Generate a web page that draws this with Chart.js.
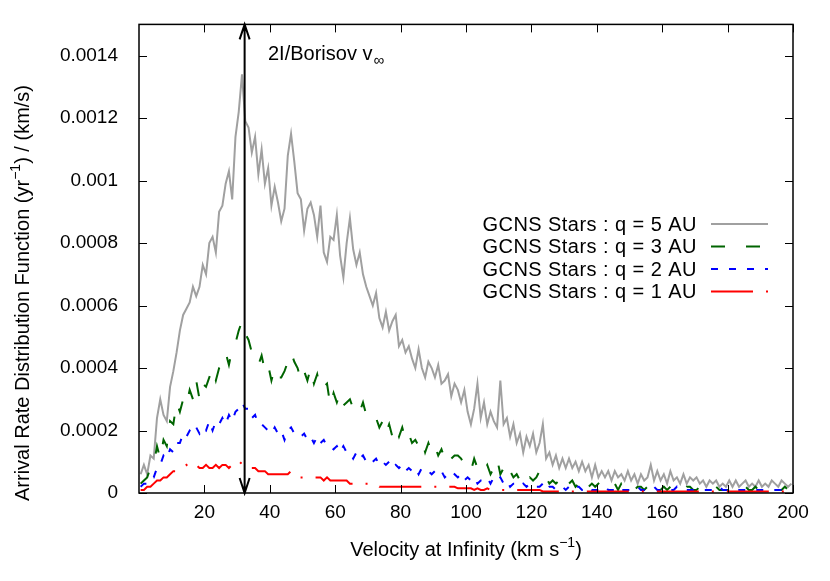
<!DOCTYPE html>
<html>
<head>
<meta charset="utf-8">
<script src="https://cdn.jsdelivr.net/npm/chart.js@4.4.0/dist/chart.umd.min.js"></script>
<style>
  html, body { margin: 0; padding: 0; background: #fff; }
  #wrap { width: 830px; height: 581px; }
</style>
</head>
<body>
<div id="wrap"><canvas id="chartPlace"></canvas></div>
<script>
// bin centres, km/s
var velocity = Array.from({length: 200}, function (_, i) { return i + 0.5; });

// GCNS stars, q = 5 AU
var q5 = [
  0.00006, 0.00009, 0.00006, 0.00012, 0.00011, 0.00024, 0.00030, 0.00025, 0.00023, 0.00034,
  0.00039, 0.00045, 0.00052, 0.00057, 0.00059, 0.00061, 0.00066, 0.00063, 0.00066, 0.00073,
  0.00070, 0.00080, 0.00082, 0.00077, 0.00090, 0.00092, 0.00099, 0.00103, 0.00094, 0.00114,
  0.00122, 0.00134, 0.00119, 0.00117, 0.00109, 0.00114, 0.00102, 0.00110, 0.00099, 0.00104,
  0.00092, 0.00098, 0.00093, 0.00087, 0.00091, 0.00108, 0.00115, 0.00106, 0.00096, 0.00094,
  0.00084, 0.00091, 0.00093, 0.00089, 0.00082, 0.00092, 0.00077, 0.00074, 0.00082, 0.00081,
  0.00089, 0.00076, 0.00069, 0.00080, 0.00088, 0.00078, 0.00073, 0.00077, 0.00070, 0.00066,
  0.00063, 0.00060, 0.00064, 0.00056, 0.00053, 0.00058, 0.00052, 0.00055, 0.00057, 0.00047,
  0.00049, 0.00045, 0.00047, 0.00043, 0.00040, 0.00046, 0.00040, 0.00037, 0.00042, 0.00040,
  0.00037, 0.00041, 0.00035, 0.00036, 0.00038, 0.00031, 0.00035, 0.00033, 0.00029, 0.00033,
  0.00026, 0.00022, 0.00027, 0.00035, 0.00024, 0.00029, 0.00022, 0.00026, 0.00023, 0.00021,
  0.00036, 0.00022, 0.00024, 0.00018, 0.00022, 0.00016, 0.00019, 0.00013, 0.00018, 0.00015,
  0.00019, 0.00013, 0.00016, 0.00022, 0.00011, 0.00013, 0.00009, 0.00012, 0.00008, 0.00011,
  0.00008, 0.00011, 0.00008, 0.00010, 0.00007, 0.00010, 0.00007, 0.00009, 0.00005, 0.00009,
  0.00005, 0.00007, 0.00005, 0.00007, 0.00004, 0.00007, 0.00005, 0.00006, 0.00004, 0.00007,
  0.00004, 0.00006, 0.00003, 0.00006, 0.00004, 0.00005, 0.00009, 0.00004, 0.00007, 0.00004,
  0.00006, 0.00003, 0.00007, 0.00004, 0.00005, 0.00003, 0.00006, 0.00003, 0.00005, 0.00004,
  0.00005, 0.00003, 0.00004, 0.00002, 0.00004, 0.00003, 0.00004, 0.00002, 0.00003, 0.00002,
  0.00004, 0.00002, 0.00004, 0.00002, 0.00003, 0.00004, 0.00002, 0.00003, 0.00002, 0.00004,
  0.00002, 0.00003, 0.00002, 0.00004, 0.00003, 0.00002, 0.00004, 0.00003, 0.00002, 0.00003
];

// q = 3 AU
var q3 = [
  0.00003, 0.00004, 0.00005, 0.00008, 0.00009, 0.00015, 0.00011, 0.00017, 0.00015, 0.00023,
  0.00022, 0.00029, 0.00026, 0.00030, 0.00028, 0.00033, 0.00030, 0.00036, 0.00030, 0.00035,
  0.00034, 0.00037, 0.00040, 0.00036, 0.00040, 0.00042, 0.00045, 0.00041, 0.00046, 0.00048,
  0.00052, 0.00055, 0.00051, 0.00049, 0.00045, 0.00044, 0.00041, 0.00044, 0.00039, 0.00041,
  0.00036, 0.00040, 0.00037, 0.00037, 0.00039, 0.00042, 0.00045, 0.00042, 0.00040, 0.00036,
  0.00039, 0.00036, 0.00040, 0.00035, 0.00038, 0.00033, 0.00034, 0.00035, 0.00028, 0.00032,
  0.00029, 0.00032, 0.00028, 0.00029, 0.00030, 0.00027, 0.00028, 0.00026, 0.00029, 0.00025,
  0.00025, 0.00023, 0.00024, 0.00021, 0.00023, 0.00019, 0.00022, 0.00018, 0.00021, 0.00018,
  0.00021, 0.00017, 0.00019, 0.00016, 0.00017, 0.00015, 0.00017, 0.00013, 0.00016, 0.00013,
  0.00015, 0.00012, 0.00014, 0.00011, 0.00013, 0.00011, 0.00012, 0.00012, 0.00011, 0.00009,
  0.00009, 0.00007, 0.00011, 0.00008, 0.00009, 0.00007, 0.00009, 0.00006, 0.00008, 0.00011,
  0.00006, 0.00008, 0.00005, 0.00007, 0.00005, 0.00006, 0.00004, 0.00006, 0.00004, 0.00005,
  0.00004, 0.00005, 0.00007, 0.00004, 0.00005, 0.00003, 0.00004, 0.00003, 0.00004, 0.00002,
  0.00004, 0.00003, 0.00004, 0.00002, 0.00003, 0.00002, 0.00004, 0.00002, 0.00003, 0.00002,
  0.00003, 0.00002, 0.00003, 0.00002, 0.00002, 0.00003, 0.00001, 0.00003, 0.00002, 0.00002,
  0.00003, 0.00001, 0.00002, 0.00002, 0.00001, 0.00002, 0.00003, 0.00001, 0.00002, 0.00001,
  0.00002, 0.00001, 0.00002, 0.00001, 0.00002, 0.00002, 0.00001, 0.00002, 0.00002, 0.00001,
  0.00001, 0.00002, 0.00002, 0.00001, 0.00001, 0.00002, 0.00002, 0.00001, 0.00001, 0.00001,
  0.00001, 0.00001, 0.00002, 0.00001, 0.00001, 0.00002, 0.00001, 0.00001, 0.00002, 0.00001,
  0.00001, 0.00001, 0.00001, 0.00002, 0.00001, 0.00001, 0.00001, 0.00002, 0.00001, 0.00001
];

// q = 2 AU
var q2 = [
  0.00002, 0.00003, 0.00003, 0.00005, 0.00005, 0.00008, 0.00009, 0.00012, 0.00011, 0.00014,
  0.00013, 0.00016, 0.00016, 0.00019, 0.00018, 0.00020, 0.00019, 0.00021, 0.00019, 0.00021,
  0.00020, 0.00023, 0.00020, 0.00023, 0.00022, 0.00024, 0.00022, 0.00025, 0.00023, 0.00026,
  0.00027, 0.00029, 0.00027, 0.00027, 0.00024, 0.00025, 0.00022, 0.00022, 0.00021, 0.00020,
  0.00019, 0.00021, 0.00019, 0.00020, 0.00017, 0.00020, 0.00021, 0.00019, 0.00019, 0.00018,
  0.00019, 0.00017, 0.00018, 0.00016, 0.00018, 0.00016, 0.00017, 0.00015, 0.00015, 0.00014,
  0.00015, 0.00013, 0.00015, 0.00013, 0.00013, 0.00011, 0.00013, 0.00011, 0.00012, 0.00010,
  0.00011, 0.00010, 0.00011, 0.00009, 0.00010, 0.00009, 0.00010, 0.00008, 0.00009, 0.00008,
  0.00009, 0.00007, 0.00008, 0.00007, 0.00008, 0.00006, 0.00008, 0.00007, 0.00007, 0.00006,
  0.00007, 0.00006, 0.00007, 0.00005, 0.00006, 0.00005, 0.00006, 0.00005, 0.00006, 0.00004,
  0.00005, 0.00004, 0.00005, 0.00003, 0.00004, 0.00004, 0.00005, 0.00003, 0.00005, 0.00004,
  0.00005, 0.00003, 0.00004, 0.00002, 0.00003, 0.00003, 0.00002, 0.00003, 0.00002, 0.00003,
  0.00003, 0.00002, 0.00002, 0.00003, 0.00001, 0.00002, 0.00002, 0.00001, 0.00002, 0.00002,
  0.00001, 0.00002, 0.00001, 0.00002, 0.00002, 0.00001, 0.00001, 0.00002, 0.00001, 0.00001,
  0.00001, 0.00002, 0.00002, 0.00001, 0.00001, 0.00001, 0.00002, 0.00001, 0.00001, 0.00001,
  0.00001, 0.00001, 0.00002, 0.00001, 0.00001, 0.00001, 0.00001, 0.00002, 0.00001, 0.00001,
  0.00001, 0.00001, 0.00001, 0.00001, 0.00002, 0.00001, 0.00001, 0.00001, 0.00001, 0.00001,
  0.00001, 0.00001, 0.00001, 0.00001, 0.00001, 0.00001, 0.00001, 0.00002, 0.00001, 0.00001,
  0.00001, 0.00001, 0.00001, 0.00001, 0.00001, 0.00001, 0.00001, 0.00001, 0.00001, 0.00001,
  0.00001, 0.00001, 0.00001, 0.00001, 0.00001, 0.00001, 0.00001, 0.00001, 0.00001, 0.00001
];

// q = 1 AU
var q1 = [
  0.00001, 0.00001, 0.00002, 0.00002, 0.00003, 0.00004, 0.00004, 0.00005, 0.00005, 0.00006,
  0.00007, 0.00007, 0.00008, 0.00008, 0.00009, 0.00008, 0.00009, 0.00009, 0.00008, 0.00008,
  0.00009, 0.00008, 0.00008, 0.00009, 0.00008, 0.00009, 0.00009, 0.00008, 0.00009, 0.00010,
  0.00009, 0.00010, 0.00010, 0.00009, 0.00008, 0.00008, 0.00007, 0.00007, 0.00007, 0.00006,
  0.00006, 0.00006, 0.00006, 0.00006, 0.00006, 0.00006, 0.00007, 0.00006, 0.00005, 0.00005,
  0.00005, 0.00005, 0.00005, 0.00005, 0.00005, 0.00005, 0.00004, 0.00005, 0.00004, 0.00004,
  0.00004, 0.00004, 0.00004, 0.00004, 0.00003, 0.00003, 0.00003, 0.00003, 0.00003, 0.00003,
  0.00003, 0.00003, 0.00003, 0.00002, 0.00002, 0.00002, 0.00002, 0.00002, 0.00002, 0.00002,
  0.00002, 0.00002, 0.00002, 0.00002, 0.00002, 0.00002, 0.00002, 0.00002, 0.00002, 0.00002,
  0.00002, 0.00002, 0.00002, 0.00002, 0.00002, 0.00002, 0.00002, 0.000015, 0.000015, 0.000015,
  0.000015, 0.000015, 0.00001, 0.000015, 0.00001, 0.00001, 0.000015, 0.00001, 0.00001, 0.00001,
  0.00001, 0.00001, 0.00001, 0.00001, 0.00001, 0.00001, 0.00001, 0.00001, 0.00001, 0.00001,
  0.00001, 0.00001, 0.00001, 0.000005, 0.000005, 0.000005, 0.000005, 0.000005, 0.000005, 0.000005,
  0.000005, 0.000005, 0.000005, 0.000005, 0.000005, 0.000005, 0.000005, 0.000005, 0.000005, 0.000005,
  0.000005, 0.000005, 0.000005, 0.000005, 0.000005, 0.000005, 0.000005, 0.000005, 0.000005, 0.000005,
  0.000005, 0.000005, 0.000005, 0.000005, 0.000005, 0.000005, 0.000005, 0.000005, 0.000005, 0.000005,
  0.000005, 0.000005, 0.000005, 0.000005, 0.000005, 0.000005, 0.000005, 0.000005, 0.000005, 0.000005,
  0.000005, 0.000005, 0.000005, 0.000005, 0.000005, 0.000005, 0.000005, 0.000005, 0.000005, 0.000005,
  0.000005, 0.000005, 0.000005, 0.000005, 0.000005, 0.000005, 0.000005, 0.000005, 0.000005, 0.000005,
  0.000005, 0.000005, 0.000005, 0.000005, 0.000005, 0.000005, 0.000005, 0.000005, 0.000005, 0.000005
];

var seriesNames = ["GCNS Stars : q = 5 AU", "GCNS Stars : q = 3 AU", "GCNS Stars : q = 2 AU", "GCNS Stars : q = 1 AU"];
var seriesColors = ["#a0a0a0", "#006400", "#0000ff", "#ff0000"];
var seriesDash = [[], [14, 21], [7, 11], [42, 13, 2, 13]];
var xTicks = [20, 40, 60, 80, 100, 120, 140, 160, 180, 200];
var yTicks = [0, 0.0002, 0.0004, 0.0006, 0.0008, 0.001, 0.0012, 0.0014];
var borisovVinf = 32.3;

var fontName = "'Liberation Sans', Arial, sans-serif";

function points(arr) {
	var out = [];
	for (var i = 0; i < arr.length; i++) {
		out.push({x: velocity[i], y: arr[i]});
	}
	return out;
}

var allSeries = [q5, q3, q2, q1];
var datasets = [];
for (var s = 0; s < allSeries.length; s++) {
	datasets.push({
		label: seriesNames[s],
		data: points(allSeries[s]),
		borderColor: seriesColors[s],
		borderWidth: 2,
		borderDash: seriesDash[s],
		pointRadius: 0,
		tension: 0,
		fill: false,
		order: 4 - s
	});
}

// frame, inward ticks, arrow, legend and axis titles, gnuplot style
var decorPlugin = {
	id: 'decor',
	afterDraw: function (chart) {
		var ctx = chart.ctx;
		var xs = chart.scales.x, ys = chart.scales.y;
		var a = chart.chartArea;
		ctx.save();

		// border
		ctx.strokeStyle = '#000';
		ctx.lineWidth = 1.5;
		ctx.strokeRect(a.left, a.top, a.right - a.left, a.bottom - a.top);

		// ticks pointing inwards on all four sides
		ctx.lineWidth = 1;
		ctx.beginPath();
		for (var i = 0; i < xTicks.length; i++) {
			var px = Math.round(xs.getPixelForValue(xTicks[i])) + 0.5;
			ctx.moveTo(px, a.bottom); ctx.lineTo(px, a.bottom - 8);
			ctx.moveTo(px, a.top); ctx.lineTo(px, a.top + 8);
		}
		for (var j = 0; j < yTicks.length; j++) {
			var py = Math.round(ys.getPixelForValue(yTicks[j])) + 0.5;
			ctx.moveTo(a.left, py); ctx.lineTo(a.left + 8, py);
			ctx.moveTo(a.right, py); ctx.lineTo(a.right - 8, py);
		}
		ctx.stroke();

		// double headed arrow at 2I/Borisov v_inf
		var ax = xs.getPixelForValue(borisovVinf);
		var yb = ys.getPixelForValue(0), yt = ys.getPixelForValue(0.0015);
		ctx.lineWidth = 2;
		ctx.beginPath();
		ctx.moveTo(ax, yb); ctx.lineTo(ax, yt);
		ctx.moveTo(ax - 5, yb - 15); ctx.lineTo(ax, yb); ctx.lineTo(ax + 5, yb - 15);
		ctx.moveTo(ax - 5, yt + 15); ctx.lineTo(ax, yt); ctx.lineTo(ax + 5, yt + 15);
		ctx.stroke();

		ctx.fillStyle = '#000';
		ctx.font = '20px ' + fontName;
		ctx.textAlign = 'left';
		ctx.textBaseline = 'alphabetic';
		var lab = '2I/Borisov v';
		ctx.fillText(lab, 268, 60);
		var lw = ctx.measureText(lab).width;
		ctx.font = '15px ' + fontName;
		ctx.fillText('\u221e', 268 + lw + 1, 65);

		// legend
		ctx.font = '20px ' + fontName;
		ctx.letterSpacing = '0.45px';
		ctx.textBaseline = 'middle';
		for (var k = 0; k < seriesNames.length; k++) {
			var ly = 224 + k * 22.5;
			ctx.textAlign = 'right';
			ctx.fillText(seriesNames[k], 697, ly + 1);
			ctx.strokeStyle = seriesColors[k];
			ctx.lineWidth = 2;
			ctx.setLineDash(seriesDash[k]);
			ctx.beginPath();
			ctx.moveTo(711, ly); ctx.lineTo(768, ly);
			ctx.stroke();
			ctx.setLineDash([]);
		}
		ctx.letterSpacing = '0px';

		// x title with superscript
		ctx.textAlign = 'left';
		ctx.textBaseline = 'alphabetic';
		var xt1 = 'Velocity at Infinity (km s', xt2 = '\u22121', xt3 = ')';
		ctx.font = '20px ' + fontName;
		var w1 = ctx.measureText(xt1).width, w3 = ctx.measureText(xt3).width;
		ctx.font = '14px ' + fontName;
		var w2 = ctx.measureText(xt2).width;
		var sx = 466 - (w1 + w2 + w3) / 2;
		ctx.font = '20px ' + fontName;
		ctx.fillText(xt1, sx, 556);
		ctx.fillText(xt3, sx + w1 + w2, 556);
		ctx.font = '14px ' + fontName;
		ctx.fillText(xt2, sx + w1, 547);

		// y title, rotated
		ctx.translate(29, 293);
		ctx.rotate(-Math.PI / 2);
		var yt1 = 'Arrival Rate Distribution Function (yr', yt2 = '\u22121', yt3 = ') / (km/s)';
		ctx.font = '20px ' + fontName;
		var v1 = ctx.measureText(yt1).width, v3 = ctx.measureText(yt3).width;
		ctx.font = '14px ' + fontName;
		var v2 = ctx.measureText(yt2).width;
		var sy = -(v1 + v2 + v3) / 2;
		ctx.font = '20px ' + fontName;
		ctx.fillText(yt1, sy, 0);
		ctx.fillText(yt3, sy + v1 + v2, 0);
		ctx.font = '14px ' + fontName;
		ctx.fillText(yt2, sy + v1, -9);

		ctx.restore();
	}
};

var chartPlace = document.getElementById('chartPlace').getContext('2d');
var chartArrival = new Chart(chartPlace, {
	type: 'line',
	data: { datasets: datasets },
	options: {
		responsive: true,
		maintainAspectRatio: false,
		animation: false,
		devicePixelRatio: 1,
		layout: { padding: { top: 20, right: 37, left: 0, bottom: 0 } },
		plugins: {
			legend: { display: false },
			tooltip: { enabled: false },
			title: { display: false }
		},
		scales: {
			x: {
				type: 'linear',
				min: 0,
				max: 200,
				grid: { display: false },
				border: { display: false },
				afterFit: function (scale) { scale.height = 88; },
				afterBuildTicks: function (scale) {
					scale.ticks = xTicks.map(function (v) { return {value: v}; });
				},
				ticks: {
					color: '#000',
					padding: 0,
					maxRotation: 0,
					autoSkip: false,
					font: { family: fontName, size: 19 },
					callback: function (v) { return String(v); }
				}
			},
			y: {
				type: 'linear',
				min: 0,
				max: 0.0015,
				grid: { display: false },
				border: { display: false },
				afterFit: function (scale) { scale.width = 139; },
				afterBuildTicks: function (scale) {
					scale.ticks = yTicks.map(function (v) { return {value: v}; });
				},
				ticks: {
					color: '#000',
					padding: 13,
					autoSkip: false,
					font: { family: fontName, size: 19 },
					callback: function (v) { return String(v); }
				}
			}
		}
	},
	plugins: [decorPlugin]
});
</script>
</body>
</html>
